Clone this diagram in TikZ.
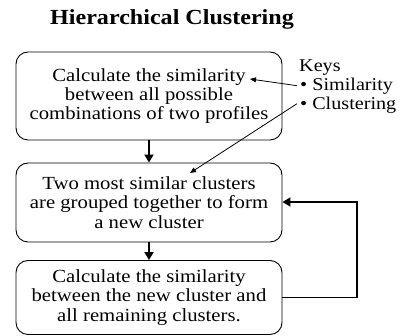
\documentclass[tikz,border=0pt]{standalone}
\usepackage{fontspec}
\setmainfont[FakeStretch=1.12]{Liberation Serif}
\usetikzlibrary{arrows.meta}
\begin{document}
\begin{tikzpicture}[x=1pt,y=-1pt,
  box/.style={draw, rounded corners=12pt, line width=0.9pt, minimum width=266pt, align=center, inner sep=0pt,
    font=\fontsize{18.5}{19.2}\selectfont},
  flow/.style={line width=1.8pt, -{Triangle[length=8pt,width=9pt]}},
  keyarrow/.style={line width=0.8pt, -{Triangle[length=6pt,width=5pt]}},
  keytext/.style={anchor=base west, inner sep=0pt, font=\fontsize{18}{19}\selectfont}]
\useasboundingbox (0,0) rectangle (413,336);
\node[font=\bfseries\fontsize{21.5}{22}\selectfont, anchor=base] (title) at (172,25) {Hierarchical Clustering};
\node[box, minimum height=88pt] (b1) at (149,96) {Calculate the similarity\\between all possible\\combinations of two profiles};
\node[box, minimum height=79pt] (b2) at (149,202.5) {Two most similar clusters\\are grouped together to form\\a new cluster};
\node[box, minimum height=74pt] (b3) at (149,297.5) {Calculate the similarity\\between the new cluster and\\all remaining clusters.};
\node[keytext] (keys) at (299,72) {Keys};
\node[keytext] (sim) at (300,91) {\textbullet\ Similarity};
\node[keytext] (clu) at (300,110) {\textbullet\ Clustering};
\coordinate (simhead) at (250,79);
\coordinate (cluhead) at (190,173);
\draw[flow] (b1.south) -- (b2.north);
\draw[flow] (b2.south) -- (b3.north);
\draw[flow] (b3.east |- 0,297.5) -- (357,297.5) -- (357,202) -- (b2.east |- 0,202);
\draw[keyarrow] ([xshift=-3pt,yshift=1pt]sim.west) -- (simhead);
\draw[keyarrow] ([xshift=-3pt,yshift=2pt]clu.west) -- (cluhead);
\end{tikzpicture}
\end{document}
